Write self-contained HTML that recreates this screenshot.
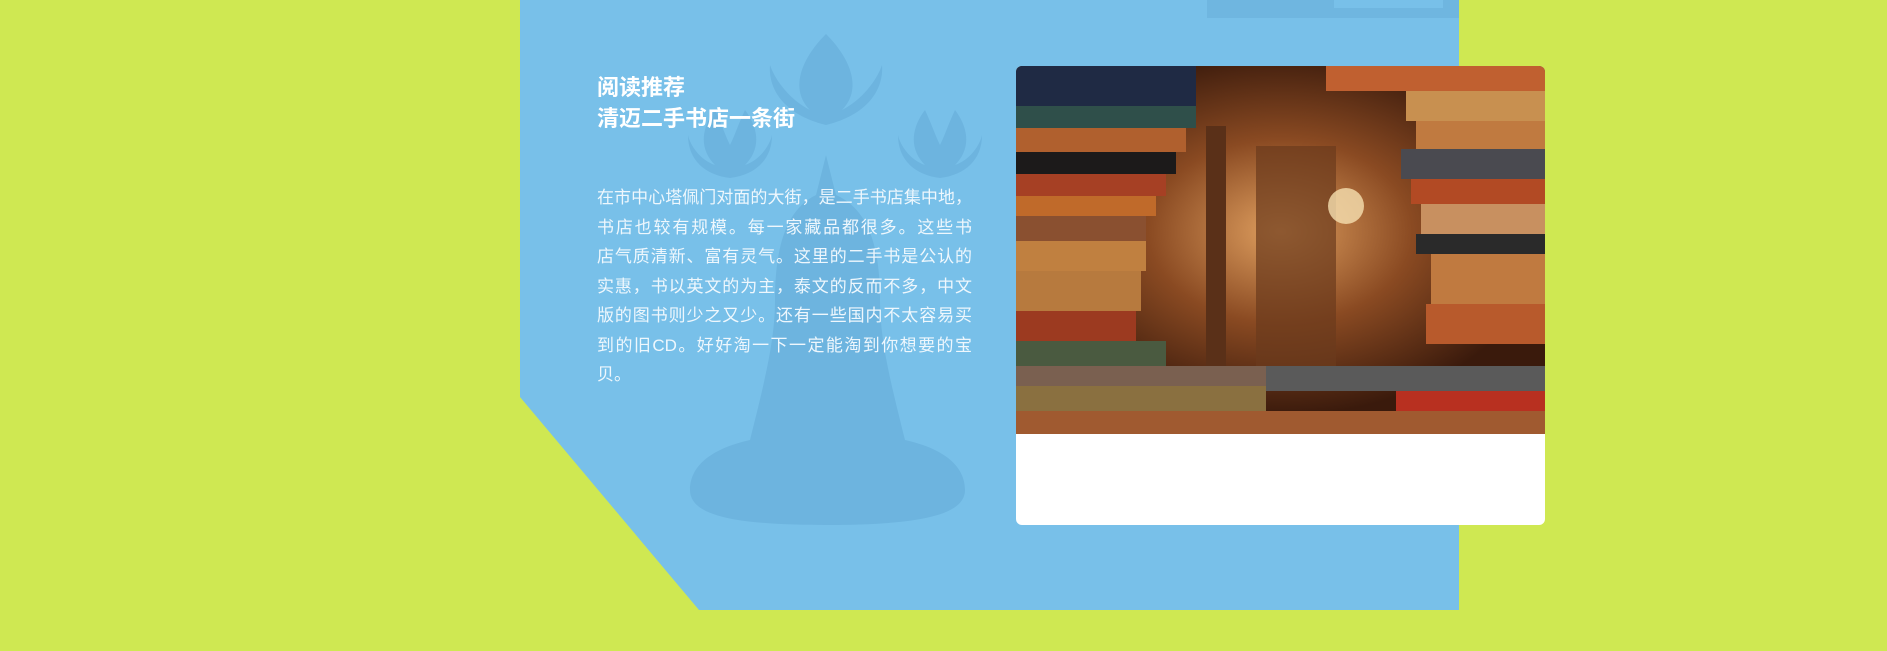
<!DOCTYPE html>
<html><head><meta charset="utf-8">
<style>
html,body{margin:0;padding:0;}
body{width:1887px;height:651px;position:relative;overflow:hidden;background:#cfe852;font-family:"Liberation Sans","Noto Sans CJK SC",sans-serif;}
.abs{position:absolute;}
.para div{white-space:nowrap;text-align:justify;text-align-last:justify;width:375px;height:29.5px;line-height:29.5px;}
</style></head>
<body>
<svg class="abs" style="left:0;top:0" width="1887" height="651">
  <polygon points="520,0 1459,0 1459,610 699,610 520,397" fill="#78c0e9"/>
  <rect x="1207" y="0" width="252" height="18" fill="#6fb6e0"/>
  <rect x="1334" y="0" width="109" height="8" fill="#78c0e9"/>
  <g fill="#6db4df">
    <path d="M826,34 C800,60 790,90 810,110 C790,100 775,80 770,65 C768,90 785,115 826,125 C867,115 884,90 882,65 C877,80 862,100 842,110 C862,90 852,60 826,34Z"/>
    <path d="M715,110 C700,130 700,150 715,165 C700,160 690,145 688,135 C688,160 705,175 730,178 C755,175 772,160 772,135 C770,145 760,160 745,165 C760,150 760,130 745,110 C738,125 735,135 730,145 C725,135 722,125 715,110Z"/>
    <path d="M925,110 C910,130 910,150 925,165 C910,160 900,145 898,135 C898,160 915,175 940,178 C965,175 982,160 982,135 C980,145 970,160 955,165 C970,150 970,130 955,110 C948,125 945,135 940,145 C935,135 932,125 925,110Z"/>
    <path d="M826,155 L836,195 C870,210 880,250 880,300 C880,340 890,380 905,440 C950,450 965,470 965,490 C965,515 920,525 826,525 C732,525 690,515 690,490 C690,470 705,450 750,440 C765,380 775,340 775,300 C775,250 785,210 816,195Z"/>
  </g>
</svg>
<div class="abs" style="left:597px;top:72px;color:#fff;font-weight:bold;font-size:22px;line-height:31px;">
  <div>阅读推荐</div>
  <div>清迈二手书店一条街</div>
</div>
<div class="abs para" style="left:597px;top:183px;color:#eef7fd;font-size:17px;">
  <div>在市中心塔佩门对面的大街，是二手书店集中地，</div>
  <div>书店也较有规模。每一家藏品都很多。这些书</div>
  <div>店气质清新、富有灵气。这里的二手书是公认的</div>
  <div>实惠，书以英文的为主，泰文的反而不多，中文</div>
  <div>版的图书则少之又少。还有一些国内不太容易买</div>
  <div>到的旧CD。好好淘一下一定能淘到你想要的宝</div>
  <div style="text-align-last:left">贝。</div>
</div>
<div class="abs" style="left:1016px;top:66px;width:529px;height:459px;background:#fff;border-radius:6px;overflow:hidden;">
  <svg width="529" height="368" style="display:block">
    <defs>
      <radialGradient id="g" cx="0.5" cy="0.45" r="0.5"><stop offset="0" stop-color="#e0a060"/><stop offset="0.5" stop-color="#8a4a22"/><stop offset="1" stop-color="#3a1a0c"/></radialGradient>
    </defs>
    <rect width="529" height="368" fill="url(#g)"/>
    <rect x="190" y="60" width="20" height="250" fill="#5a3018"/>
    <rect x="240" y="80" width="80" height="230" fill="#6b3a1c" opacity="0.7"/>
    <circle cx="330" cy="140" r="18" fill="#f6e0b0" opacity="0.8"/>
    <g>
      <rect x="0" y="0" width="180" height="40" fill="#1f2a44"/>
      <rect x="0" y="40" width="180" height="22" fill="#2f4f4a"/>
      <rect x="0" y="62" width="170" height="24" fill="#b0602e"/>
      <rect x="0" y="86" width="160" height="22" fill="#1c1a1a"/>
      <rect x="0" y="108" width="150" height="22" fill="#a64024"/>
      <rect x="0" y="130" width="140" height="20" fill="#c06a2a"/>
      <rect x="0" y="150" width="130" height="25" fill="#8a5030"/>
      <rect x="0" y="175" width="130" height="30" fill="#c08040"/>
      <rect x="0" y="205" width="125" height="40" fill="#b77a3e"/>
      <rect x="0" y="245" width="120" height="30" fill="#9c3a20"/>
      <rect x="0" y="275" width="150" height="25" fill="#4a5a40"/>
      <rect x="0" y="300" width="250" height="20" fill="#7a6050"/>
      <rect x="0" y="320" width="250" height="25" fill="#8a7040"/>
      <rect x="0" y="345" width="529" height="23" fill="#a05a30"/>
    </g>
    <g>
      <rect x="310" y="0" width="219" height="25" fill="#c06030"/>
      <rect x="390" y="25" width="139" height="30" fill="#c89050"/>
      <rect x="400" y="55" width="129" height="28" fill="#c07a40"/>
      <rect x="385" y="83" width="144" height="30" fill="#4a4a50"/>
      <rect x="395" y="113" width="134" height="25" fill="#b24a24"/>
      <rect x="405" y="138" width="124" height="30" fill="#c89060"/>
      <rect x="400" y="168" width="129" height="20" fill="#2a2a2a"/>
      <rect x="415" y="188" width="114" height="50" fill="#c07a40"/>
      <rect x="410" y="238" width="119" height="40" fill="#b85a2c"/>
      <rect x="250" y="300" width="279" height="25" fill="#5a5a5a"/>
      <rect x="380" y="325" width="149" height="20" fill="#b83020"/>
    </g>
  </svg>
</div>
</body></html>
